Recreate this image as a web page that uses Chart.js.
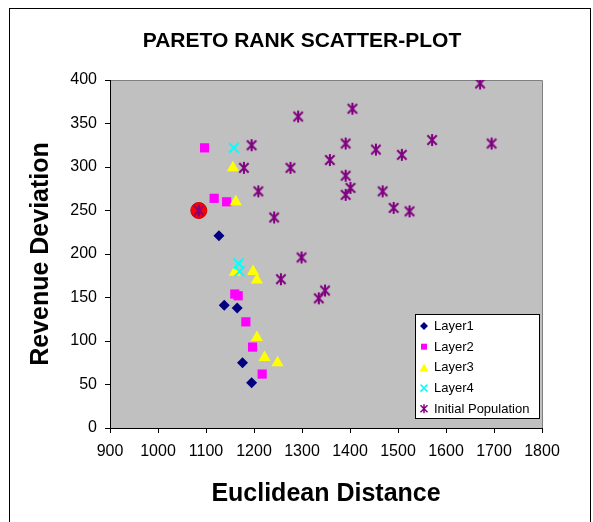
<!DOCTYPE html>
<html>
<head>
<meta charset="utf-8">
<title>Pareto Rank Scatter-Plot</title>
<script src="https://cdn.jsdelivr.net/npm/chart.js@4.4.0/dist/chart.umd.min.js"></script>
<style>
    html, body { margin: 0; padding: 0; background: #fff; overflow: hidden; }
    #wrap { position: relative; width: 593px; height: 522px; }
</style>
</head>
<body>
<div id="wrap"><canvas id="paretoChart" width="593" height="522"></canvas></div>
<script>
// Valores (distância euclidiana x desvio de receita)
const layer1X = [1127, 1138, 1165, 1176, 1195];
const layer1Y = [221, 141, 138, 75, 52];

const layer2X = [1097, 1117, 1143, 1160, 1167, 1183, 1197, 1217];
const layer2Y = [322, 264, 260, 154, 152, 122, 93, 62];

const layer3X = [1156, 1162, 1160, 1198, 1206, 1206, 1222, 1249];
const layer3Y = [299, 260, 179, 180, 170, 104, 81, 75];

const layer4X = [1158, 1168, 1170];
const layer4Y = [322, 189, 180];

const initialX = [1085, 1195, 1179, 1276, 1292, 1209, 1242, 1299, 1256, 1335, 1348, 1405, 1391,
                  1454, 1508, 1571, 1695, 1671, 1358, 1391, 1401, 1391, 1468, 1491, 1524];
const initialY = [250, 325, 299, 299, 358, 272, 242, 196, 171, 149, 158, 367, 327,
                  320, 314, 331, 327, 396, 308, 290, 276, 268, 272, 253, 249];

// solução escolhida (círculo vermelho)
const selectedX = [1085];
const selectedY = [250];

const xTicks = [900, 1000, 1100, 1200, 1300, 1400, 1500, 1600, 1700, 1800];
const yTicks = [0, 50, 100, 150, 200, 250, 300, 350, 400];

const chartTitle = 'PARETO RANK SCATTER-PLOT';

const FONT = '"Liberation Sans", Arial, sans-serif';

function toPoints(xs, ys) {
    return xs.map((x, i) => ({ x: x, y: ys[i] }));
}

// marcador estrela do Excel (X com traço vertical)
function makeStar(size, color) {
    const c = document.createElement('canvas');
    c.width = size;
    c.height = size;
    const g = c.getContext('2d');
    const m = size / 2;
    const r = size / 2 - 1;
    const d = r * 0.78;
    g.strokeStyle = color;
    g.lineWidth = 2;
    g.beginPath();
    g.moveTo(m - d, m - d); g.lineTo(m + d, m + d);
    g.moveTo(m + d, m - d); g.lineTo(m - d, m + d);
    g.moveTo(m, m - r); g.lineTo(m, m + r);
    g.stroke();
    return c;
}

const starMarker = makeStar(14, '#800080');

// Desenha marcadores da legenda
function drawMarker(ctx, kind, x, y, color) {
    ctx.save();
    ctx.fillStyle = color;
    ctx.strokeStyle = color;
    ctx.beginPath();
    if (kind === 'diamond') {
        ctx.moveTo(x, y - 4); ctx.lineTo(x + 4, y); ctx.lineTo(x, y + 4); ctx.lineTo(x - 4, y);
        ctx.closePath(); ctx.fill();
    } else if (kind === 'square') {
        ctx.rect(x - 3, y - 3, 6, 6); ctx.fill();
    } else if (kind === 'triangle') {
        ctx.moveTo(x, y - 4); ctx.lineTo(x + 4.5, y + 4); ctx.lineTo(x - 4.5, y + 4);
        ctx.closePath(); ctx.fill();
    } else if (kind === 'x') {
        ctx.lineWidth = 1.5;
        ctx.moveTo(x - 3.5, y - 3.5); ctx.lineTo(x + 3.5, y + 3.5);
        ctx.moveTo(x + 3.5, y - 3.5); ctx.lineTo(x - 3.5, y + 3.5);
        ctx.stroke();
    } else if (kind === 'star') {
        ctx.lineWidth = 1.5;
        ctx.moveTo(x - 3.5, y - 3.5); ctx.lineTo(x + 3.5, y + 3.5);
        ctx.moveTo(x + 3.5, y - 3.5); ctx.lineTo(x - 3.5, y + 3.5);
        ctx.moveTo(x, y - 4.5); ctx.lineTo(x, y + 4.5);
        ctx.stroke();
    }
    ctx.restore();
}

// fundo cinza, moldura externa, título e legenda
const excelLook = {
    id: 'excelLook',
    beforeDraw(chart) {
        const ctx = chart.ctx;
        const a = chart.chartArea;
        ctx.save();
        ctx.fillStyle = '#ffffff';
        ctx.fillRect(0, 0, chart.width, chart.height);
        ctx.strokeStyle = '#000000';
        ctx.lineWidth = 1;
        ctx.strokeRect(9.5, 8.5, 581, 530);
        ctx.fillStyle = '#C0C0C0';
        ctx.fillRect(a.left, a.top, a.right - a.left, a.bottom - a.top);
        ctx.strokeStyle = '#808080';
        ctx.beginPath();
        ctx.moveTo(a.left, a.top + 0.5);
        ctx.lineTo(a.right + 0.5, a.top + 0.5);
        ctx.lineTo(a.right + 0.5, a.bottom);
        ctx.stroke();

        // título centrado na moldura
        ctx.fillStyle = '#000000';
        ctx.font = 'bold 21px ' + FONT;
        ctx.textAlign = 'center';
        ctx.textBaseline = 'middle';
        ctx.fillText(chartTitle, 302, 41);
        ctx.restore();
    },
    afterDraw(chart) {
        const ctx = chart.ctx;
        const a = chart.chartArea;
        const boxR = a.right - 3;
        const boxB = a.bottom - 10;
        const boxL = boxR - 124;
        const boxT = boxB - 104;
        ctx.save();
        ctx.fillStyle = '#ffffff';
        ctx.fillRect(boxL, boxT, boxR - boxL, boxB - boxT);
        ctx.strokeStyle = '#000000';
        ctx.lineWidth = 1;
        ctx.strokeRect(boxL + 0.5, boxT + 0.5, boxR - boxL, boxB - boxT);
        ctx.font = '13px ' + FONT;
        ctx.textBaseline = 'middle';
        ctx.fillStyle = '#000000';
        let row = 0;
        chart.data.datasets.forEach(ds => {
            if (!ds.legendKind) return;
            const y = boxT + 12 + row * 20.7;
            drawMarker(ctx, ds.legendKind, boxL + 9, y, ds.legendColor);
            ctx.fillStyle = '#000000';
            ctx.fillText(ds.label, boxL + 19, y + 0.5);
            row++;
        });
        ctx.restore();
    }
};

function renderChart() {
    const ctx = document.getElementById('paretoChart').getContext('2d');

    new Chart(ctx, {
        type: 'scatter',
        data: {
            datasets: [{
                label: 'Layer1',
                data: toPoints(layer1X, layer1Y),
                pointStyle: 'rectRot',
                pointRadius: 5.5,
                backgroundColor: '#000080',
                borderColor: '#000080',
                borderWidth: 0,
                order: 2,
                legendKind: 'diamond',
                legendColor: '#000080'
            }, {
                label: 'Layer2',
                data: toPoints(layer2X, layer2Y),
                pointStyle: 'rect',
                pointRadius: 6.5,
                backgroundColor: '#FF00FF',
                borderColor: '#FF00FF',
                borderWidth: 0,
                order: 4,
                legendKind: 'square',
                legendColor: '#FF00FF'
            }, {
                label: 'Layer3',
                data: toPoints(layer3X, layer3Y),
                pointStyle: 'triangle',
                pointRadius: 7,
                backgroundColor: '#FFFF00',
                borderColor: '#FFFF00',
                borderWidth: 0,
                order: 3,
                legendKind: 'triangle',
                legendColor: '#FFFF00'
            }, {
                label: 'Layer4',
                data: toPoints(layer4X, layer4Y),
                pointStyle: 'crossRot',
                pointRadius: 7,
                backgroundColor: '#00FFFF',
                borderColor: '#00FFFF',
                borderWidth: 2,
                order: 1,
                legendKind: 'x',
                legendColor: '#00FFFF'
            }, {
                label: 'Initial Population',
                data: toPoints(initialX, initialY),
                pointStyle: starMarker,
                pointRadius: 7,
                backgroundColor: '#800080',
                borderColor: '#800080',
                order: 0,
                legendKind: 'star',
                legendColor: '#800080'
            }, {
                label: 'Selected',
                data: toPoints(selectedX, selectedY),
                pointStyle: 'circle',
                pointRadius: 8,
                backgroundColor: '#FF0000',
                borderColor: '#D00000',
                borderWidth: 1,
                order: 9
            }]
        },
        options: {
            responsive: false,
            animation: false,
            events: [],
            layout: {
                padding: { left: 0, top: 80, right: 51, bottom: 0 }
            },
            scales: {
                x: {
                    type: 'linear',
                    min: 900,
                    max: 1800,
                    afterBuildTicks: scale => { scale.ticks = xTicks.map(v => ({ value: v })); },
                    afterFit: scale => { scale.height = 94; },
                    ticks: {
                        color: '#000',
                        padding: 9,
                        maxRotation: 0,
                        font: { family: FONT, size: 16 },
                        callback: v => String(v)
                    },
                    grid: {
                        drawOnChartArea: false,
                        drawTicks: true,
                        tickLength: 5,
                        color: '#000'
                    },
                    border: { color: '#000', width: 1 },
                    title: {
                        display: true,
                        text: 'Euclidean Distance',
                        color: '#000',
                        font: { family: FONT, size: 25, weight: 'bold' },
                        padding: { top: 0, bottom: 13 }
                    }
                },
                y: {
                    type: 'linear',
                    min: 0,
                    max: 400,
                    afterBuildTicks: scale => { scale.ticks = yTicks.map(v => ({ value: v })); },
                    afterFit: scale => { scale.width = 110; },
                    ticks: {
                        color: '#000',
                        padding: 8,
                        font: { family: FONT, size: 16 },
                        callback: v => String(v)
                    },
                    grid: {
                        drawOnChartArea: false,
                        drawTicks: true,
                        tickLength: 5,
                        color: '#000'
                    },
                    border: { color: '#000', width: 1 },
                    title: {
                        display: true,
                        text: 'Revenue Deviation',
                        color: '#000',
                        font: { family: FONT, size: 25, weight: 'bold' },
                        padding: { top: 26, bottom: 0 }
                    }
                }
            },
            plugins: {
                legend: { display: false },
                tooltip: { enabled: false },
                title: { display: false }
            }
        },
        plugins: [excelLook]
    });
}

document.addEventListener('DOMContentLoaded', renderChart);
</script>
</body>
</html>
